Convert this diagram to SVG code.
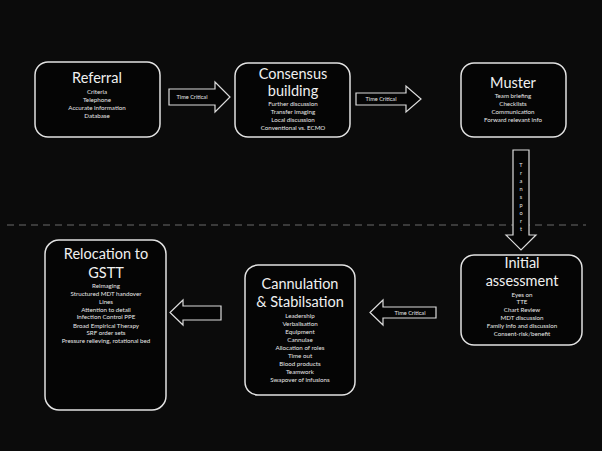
<svg xmlns="http://www.w3.org/2000/svg" width="602" height="451" viewBox="0 0 602 451">
<style>
.box{fill:#050505;stroke:#e2e2e2;stroke-width:1.5}
.arr{fill:#050505;stroke:#dcdcdc;stroke-width:1.2;stroke-linejoin:miter}
.t{font-family:Lato,"Open Sans","Liberation Sans",sans-serif;fill:#f0f0f0;text-anchor:middle;font-size:14.5px}
.s{font-family:Lato,"Open Sans","Liberation Sans",sans-serif;fill:#e8e8e8;text-anchor:middle;font-size:6.2px}
.a{font-family:Lato,"Open Sans","Liberation Sans",sans-serif;fill:#e8e8e8;text-anchor:middle;font-size:5.6px}
</style>
<rect x="0" y="0" width="602" height="451" fill="#0b0b0b"/>
<line x1="7" y1="225" x2="586" y2="225" stroke="#6a6a6a" stroke-width="1" stroke-dasharray="7 5"/>
<g id="connectors">
<g id="arrow-referral-consensus">
<polygon class="arr" points="169,89 215,89 215,82 230,97 215,112 215,105 169,105"/>
<text class="a" x="192" y="99">Time Critical</text>
</g>
<g id="arrow-consensus-muster">
<polygon class="arr" points="356,93 406,93 406,86 421,99 406,112 406,105 356,105"/>
<text class="a" x="381" y="101">Time Critical</text>
</g>
<g id="arrow-muster-initial">
<polygon class="arr" points="513,150 529,150 529,235 536,235 521,250 506,235 513,235"/>
<text class="a" x="521" y="167">T</text>
<text class="a" x="521" y="175">r</text>
<text class="a" x="521" y="183">a</text>
<text class="a" x="521" y="191">n</text>
<text class="a" x="521" y="199">s</text>
<text class="a" x="521" y="207">p</text>
<text class="a" x="521" y="215">o</text>
<text class="a" x="521" y="223">r</text>
<text class="a" x="521" y="231">t</text>
</g>
<g id="arrow-initial-cannulation">
<polygon class="arr" points="436,307 383,307 383,300 370,312.5 383,325 383,318 436,318"/>
<text class="a" x="410" y="315">Time Critical</text>
</g>
<g id="arrow-cannulation-relocation">
<polygon class="arr" points="221,306 183,306 183,300 170,312.5 183,325 183,320 221,320"/>
</g>
</g>
<g id="referral">
<rect class="box" x="35" y="62" width="125" height="75" rx="13"/>
<text class="t" x="97" y="83">Referral</text>
<text class="s" x="97" y="94">Criteria</text>
<text class="s" x="97" y="102">Telephone</text>
<text class="s" x="97" y="110">Accurate information</text>
<text class="s" x="97" y="118">Database</text>
</g>
<g id="consensus">
<rect class="box" x="235" y="63" width="115" height="74" rx="13"/>
<text class="t" x="293" y="79">Consensus</text>
<text class="t" x="293" y="96">building</text>
<text class="s" x="293" y="106">Further discussion</text>
<text class="s" x="293" y="114">Transfer imaging</text>
<text class="s" x="293" y="122">Local discussion</text>
<text class="s" x="293" y="130">Conventional vs. ECMO</text>
</g>
<g id="muster">
<rect class="box" x="461" y="63" width="105" height="74" rx="13"/>
<text class="t" x="513" y="88">Muster</text>
<text class="s" x="513" y="98">Team briefing</text>
<text class="s" x="513" y="106">Checklists</text>
<text class="s" x="513" y="114">Communication</text>
<text class="s" x="513" y="122">Forward relevant info</text>
</g>
<g id="initial">
<rect class="box" x="461" y="255" width="121" height="90" rx="13"/>
<text class="t" x="522" y="268">Initial</text>
<text class="t" x="522" y="286">assessment</text>
<text class="s" x="522" y="297">Eyes on</text>
<text class="s" x="522" y="304">TTE</text>
<text class="s" x="522" y="312">Chart Review</text>
<text class="s" x="522" y="320">MDT discussion</text>
<text class="s" x="522" y="328">Family info and discussion</text>
<text class="s" x="522" y="336">Consent-risk/benefit</text>
</g>
<g id="cannulation">
<rect class="box" x="245" y="265" width="110" height="130" rx="13"/>
<text class="t" x="300" y="289">Cannulation</text>
<text class="t" x="300" y="307">&amp; Stabilsation</text>
<text class="s" x="300" y="318">Leadership</text>
<text class="s" x="300" y="326">Verbalisation</text>
<text class="s" x="300" y="334">Equipment</text>
<text class="s" x="300" y="342">Cannulae</text>
<text class="s" x="300" y="350">Allocation of roles</text>
<text class="s" x="300" y="358">Time out</text>
<text class="s" x="300" y="366">Blood products</text>
<text class="s" x="300" y="374">Teamwork</text>
<text class="s" x="300" y="382">Swapover of infusions</text>
</g>
<g id="relocation">
<rect class="box" x="45" y="240" width="121" height="170" rx="14"/>
<text class="t" x="106" y="259">Relocation to</text>
<text class="t" x="106" y="278">GSTT</text>
<text class="s" x="106" y="288">Reimaging</text>
<text class="s" x="106" y="296">Structured MDT handover</text>
<text class="s" x="106" y="304">Lines</text>
<text class="s" x="106" y="312">Attention to detail</text>
<text class="s" x="106" y="319">Infection Control PPE</text>
<text class="s" x="106" y="328">Broad Empirical Therapy</text>
<text class="s" x="106" y="335">SRF order sets</text>
<text class="s" x="106" y="343">Pressure relieving, rotational bed</text>
</g>
</svg>
